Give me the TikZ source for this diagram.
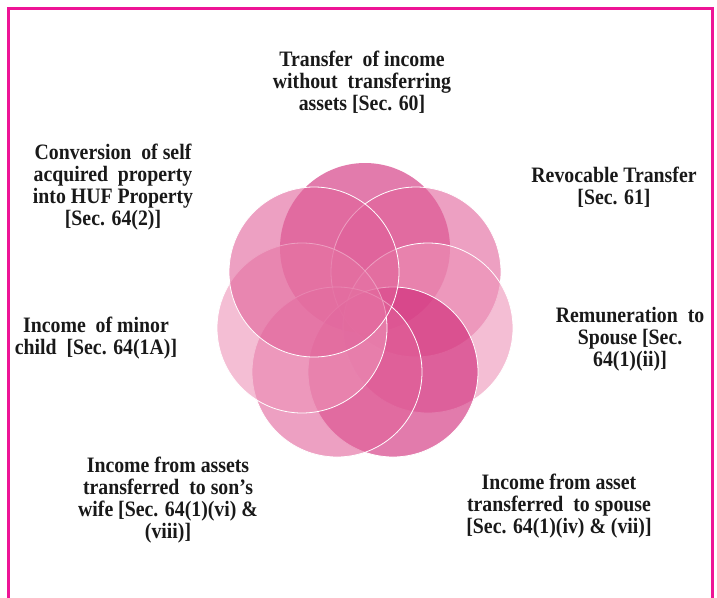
\documentclass[tikz,border=0pt]{standalone}
\usepackage{fontspec}
\setmainfont{Liberation Serif}[FakeStretch=0.9]
\usepackage{xcolor}
\definecolor{petaldeep}{RGB}{207,35,117}
\definecolor{petalmid}{RGB}{225,97,153}
\definecolor{petallight}{RGB}{237,147,184}
\definecolor{framepink}{RGB}{238,20,150}

\begin{document}
\begin{tikzpicture}[x=1pt, y=-1pt,
    petal/.style={circle, fill opacity=0.6, minimum size=170pt, inner sep=0pt},
    rim/.style={draw=white, line width=0.8pt},
    caption/.style={align=center, text=black!90, font=\fontsize{22}{22}\selectfont\bfseries}]
    \useasboundingbox (0,0) rectangle (717,597);

    % Frame
    \draw[framepink, line width=3pt] (8,600) -- (8,8) -- (712,8) -- (712,600);

    % Petals
    \node[petal, fill=petaldeep] (p60) at (365,248) {};
    \node[petal, rim, fill=petalmid] (p61) at (416,272) {};
    \node[petal, rim, fill=petallight] (pspouse) at (428,328) {};
    \node[petal, rim, fill=petaldeep] (passet) at (393,372) {};
    \node[petal, rim, fill=petalmid] (pson) at (337,372) {};
    \node[petal, rim, fill=petallight] (pminor) at (302,328) {};
    \node[petal, rim, fill=petalmid] (phuf) at (314,272) {};

    % Labels
    \node[caption] (t60) at (362,82) {Transfer\ \ of income\\without\ \ transferring\\assets [Sec. 60]};
    \node[caption] (t61) at (614,187) {Revocable Transfer\\{[Sec. 61]}};
    \node[caption] (thuf) at (113,187) {Conversion\ \ of self\\acquired\ \ property\\into HUF Property\\{[Sec. 64(2)]}};
    \node[caption] (tminor) at (96,338) {Income\ \ of minor\\child\ \ [Sec. 64(1A)]};
    \node[caption] (tspouse) at (630,339) {Remuneration\ \ to\\Spouse [Sec.\\64(1)(ii)]};
    \node[caption] (tson) at (168,500) {Income from assets\\transferred\ \ to son’s\\wife [Sec. 64(1)(vi) \&\\(viii)]};
    \node[caption] (tasset) at (559,506) {Income from asset\\transferred\ \ to spouse\\{[Sec. 64(1)(iv) \& (vii)]}};
\end{tikzpicture}
\end{document}
